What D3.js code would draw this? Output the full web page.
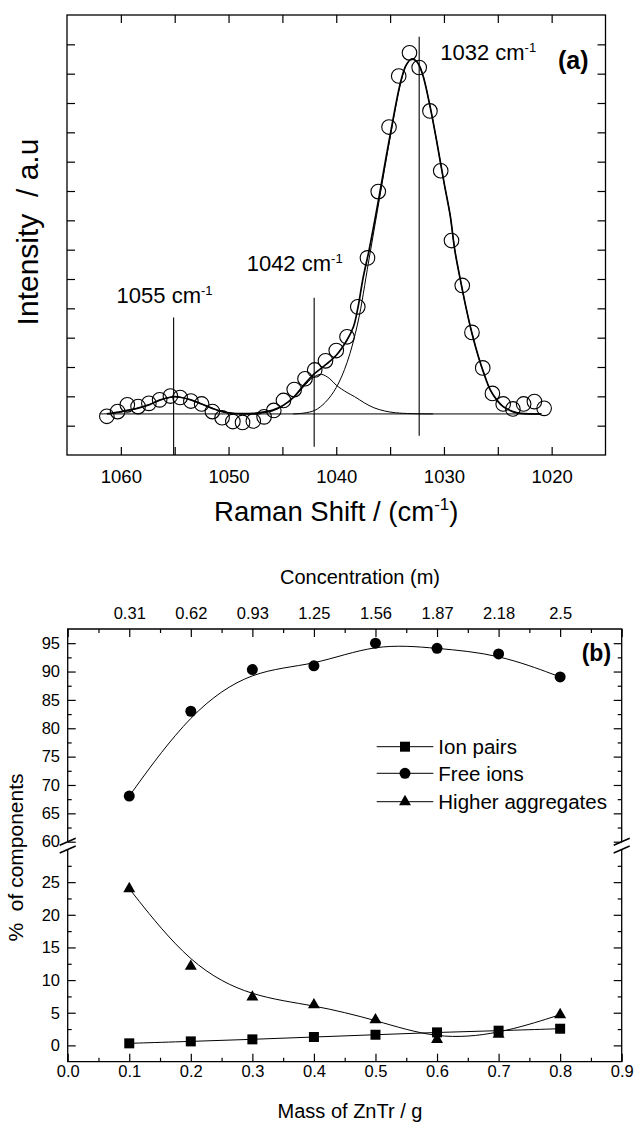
<!DOCTYPE html>
<html>
<head>
<meta charset="utf-8">
<script src="https://cdn.jsdelivr.net/npm/d3@7"></script>
<style>
    body { margin: 0; background: #fff; }
    svg { font-family: "Liberation Sans", Arial, sans-serif; }
    .axis .domain { display: none; }
    .axis line { stroke: #000; stroke-width: 1.2; }
    .axis text { fill: #000; }
</style>
</head>
<body>
<svg id="chart" width="638" height="1124"></svg>
<script>

// ---- panel (a): Raman band, measured points ----
var ramanShift = [1061.3, 1060.3, 1059.4, 1058.4, 1057.4, 1056.4, 1055.4, 1054.5, 1053.5, 1052.5,
    1051.5, 1050.6, 1049.6, 1048.7, 1047.7, 1046.7, 1045.8, 1044.9, 1043.9, 1042.9,
    1042.0, 1041.0, 1040.0, 1039.0, 1038.0, 1037.1, 1036.1, 1035.1, 1034.2, 1033.2,
    1032.3, 1031.3, 1030.3, 1029.3, 1028.3, 1027.4, 1026.4, 1025.5, 1024.5, 1023.6,
    1022.6, 1021.6, 1020.7];
var ramanIntensity = [0.032, 0.048, 0.071, 0.065, 0.076, 0.088, 0.101, 0.096, 0.084, 0.074,
    0.048, 0.027, 0.014, 0.011, 0.016, 0.030, 0.052, 0.086, 0.123, 0.160,
    0.190, 0.221, 0.256, 0.303, 0.405, 0.572, 0.798, 1.018, 1.192, 1.271,
    1.221, 1.073, 0.869, 0.631, 0.478, 0.318, 0.197, 0.110, 0.074, 0.057,
    0.074, 0.082, 0.059];

// fitted envelope and the three components
var fitTotal = [[1061.3, 0.040], [1060.2, 0.046], [1059.3, 0.053], [1058.4, 0.060], [1057.4, 0.071],
    [1056.4, 0.087], [1055.4, 0.097], [1055.0, 0.099], [1054.5, 0.097], [1053.5, 0.088],
    [1052.5, 0.074], [1051.5, 0.059], [1050.6, 0.048], [1049.6, 0.042], [1048.6, 0.041],
    [1047.7, 0.042], [1046.8, 0.046], [1045.9, 0.053], [1044.9, 0.070], [1043.9, 0.099],
    [1043.0, 0.139], [1042.0, 0.178], [1041.0, 0.207], [1040.0, 0.240], [1039.0, 0.292],
    [1038.4, 0.337], [1038.0, 0.400], [1037.5, 0.505], [1037.0, 0.590], [1036.5, 0.685],
    [1036.0, 0.785], [1035.0, 0.990], [1034.0, 1.175], [1033.5, 1.230], [1033.0, 1.250],
    [1032.5, 1.240], [1032.0, 1.200], [1031.3, 1.090], [1030.7, 0.975], [1030.0, 0.830],
    [1029.4, 0.712], [1029.0, 0.600], [1028.35, 0.474], [1027.9, 0.394], [1027.4, 0.315],
    [1026.8, 0.235], [1026.3, 0.179], [1025.7, 0.122], [1025.1, 0.088], [1024.5, 0.065],
    [1023.6, 0.048], [1022.9, 0.042], [1022.0, 0.040], [1021.0, 0.040]];
var fit1055 = [[1062.0, 0.040], [1061.0, 0.041], [1060.2, 0.045], [1059.3, 0.052], [1058.4, 0.060],
    [1057.4, 0.071], [1056.4, 0.087], [1055.4, 0.097], [1055.0, 0.099], [1054.5, 0.097],
    [1053.5, 0.088], [1052.5, 0.074], [1051.5, 0.059], [1050.6, 0.048], [1049.6, 0.042],
    [1048.6, 0.040], [1047.0, 0.040]];
var fit1042 = [[1049.0, 0.040], [1048.0, 0.041], [1047.0, 0.043], [1046.0, 0.049], [1045.0, 0.066],
    [1044.0, 0.095], [1043.0, 0.134], [1042.2, 0.163], [1041.4, 0.175], [1040.6, 0.160],
    [1040.0, 0.138], [1039.0, 0.113], [1038.3, 0.099], [1037.4, 0.078], [1036.5, 0.061],
    [1035.5, 0.050], [1034.5, 0.044], [1033.0, 0.041], [1031.0, 0.040]];
var fit1032 = [[1044.0, 0.040], [1043.0, 0.043], [1042.0, 0.052], [1041.0, 0.080], [1040.0, 0.130],
    [1039.0, 0.215], [1038.0, 0.350], [1037.0, 0.558], [1036.0, 0.771], [1035.0, 0.982],
    [1034.0, 1.172], [1033.5, 1.229], [1033.0, 1.250], [1032.5, 1.240], [1032.0, 1.200],
    [1031.3, 1.090], [1030.7, 0.975], [1030.0, 0.830], [1029.4, 0.712], [1029.0, 0.600],
    [1028.35, 0.474], [1027.9, 0.394], [1027.4, 0.315], [1026.8, 0.235], [1026.3, 0.179],
    [1025.7, 0.122], [1025.1, 0.088], [1024.5, 0.065], [1023.6, 0.048], [1022.9, 0.042],
    [1022.0, 0.040], [1021.0, 0.040]];
var baseLine = [[1061.2, 0.040], [1020.9, 0.040]];

var peakShift = [1055.1, 1042.05, 1032.3];
var peakName = ["1055", "1042", "1032"];
var peakLineTop = [0.369, 0.436, 1.326];
var peakLineBottom = [-0.1, -0.072, -0.034];

var shiftTicks = [1060, 1055, 1050, 1045, 1040, 1035, 1030, 1025, 1020];
var intensityTicks = [0, 0.1, 0.2, 0.3, 0.4, 0.5, 0.6, 0.7, 0.8, 0.9, 1.0, 1.1, 1.2, 1.3];

// ---- panel (b): components vs mass ----
var mass = [0.1, 0.2, 0.3, 0.4, 0.5, 0.6, 0.7, 0.8];
var concLabels = ["0.31", "0.62", "0.93", "1.25", "1.56", "1.87", "2.18", "2.5"];
var ionPairs = [0.31, 0.61, 0.92, 1.28, 1.63, 1.99, 2.25, 2.55];
var freeIons = [68.05, 83.0, 90.35, 91.0, 95.0, 94.1, 93.1, 89.05];
var higherAgg = [24.0, 12.1, 7.4, 6.2, 3.9, 0.9, 1.7, 4.7];
var seriesNames = ["Ion pairs", "Free ions", "Higher aggregates"];

var massTicks = [0, 0.1, 0.2, 0.3, 0.4, 0.5, 0.6, 0.7, 0.8, 0.9];
var upperTicks = [60, 65, 70, 75, 80, 85, 90, 95];
var lowerTicks = [0, 5, 10, 15, 20, 25];


var svg = d3.select("#chart");
var FONT = '"Liberation Sans", Arial, sans-serif';

function styleAxis(sel, size) {
    sel.attr("class", "axis")
        .style("font-family", FONT)
        .style("font-size", size + "px");
    return sel;
}

// =============== panel (a) ===============
var ma = {left: 67, right: 605.5, top: 15, bottom: 455};

var xA = d3.scaleLinear().domain([1065, 1015]).range([ma.left, ma.right]);
var yA = d3.scaleLinear().domain([-0.1, 1.4]).range([ma.bottom, ma.top]);

var gA = svg.append("g");

styleAxis(gA.append("g"), 18.5)
    .attr("transform", "translate(0," + ma.bottom + ")")
    .call(d3.axisBottom(xA).tickValues(shiftTicks).tickSize(-8).tickPadding(15)
        .tickFormat(function (d) { return d % 10 === 0 ? d : ""; }));

styleAxis(gA.append("g"), 12)
    .attr("transform", "translate(0," + ma.top + ")")
    .call(d3.axisTop(xA).tickValues(shiftTicks).tickSize(-8).tickFormat(""));

styleAxis(gA.append("g"), 12)
    .attr("transform", "translate(" + ma.left + ",0)")
    .call(d3.axisLeft(yA).tickValues(intensityTicks).tickSize(-8).tickFormat(""));

styleAxis(gA.append("g"), 12)
    .attr("transform", "translate(" + ma.right + ",0)")
    .call(d3.axisRight(yA).tickValues(intensityTicks).tickSize(-8).tickFormat(""));

gA.append("rect")
    .attr("x", ma.left).attr("y", ma.top)
    .attr("width", ma.right - ma.left).attr("height", ma.bottom - ma.top)
    .attr("fill", "none").attr("stroke", "#000").attr("stroke-width", 1.3);

var lineA = d3.line()
    .x(function (d) { return xA(d[0]); })
    .y(function (d) { return yA(d[1]); })
    .curve(d3.curveCatmullRom);

[baseLine, fit1055, fit1042, fit1032].forEach(function (pts) {
    gA.append("path").datum(pts)
        .attr("d", lineA)
        .attr("fill", "none").attr("stroke", "#000").attr("stroke-width", 1);
});

gA.append("path").datum(fitTotal)
    .attr("d", lineA)
    .attr("fill", "none").attr("stroke", "#000").attr("stroke-width", 1.7);

// peak markers
gA.selectAll("line.peak").data(peakShift).enter()
    .append("line").attr("class", "peak")
    .attr("x1", function (d) { return xA(d); })
    .attr("x2", function (d) { return xA(d); })
    .attr("y1", function (d, i) { return yA(peakLineTop[i]); })
    .attr("y2", function (d, i) { return yA(peakLineBottom[i]); })
    .attr("stroke", "#000").attr("stroke-width", 1.1);

var labelDx = [-57, -67.5, 21];
var labelY = [302.7, 270.7, 59.5];
peakShift.forEach(function (p, i) {
    var t = gA.append("text")
        .attr("x", xA(p) + labelDx[i]).attr("y", labelY[i])
        .style("font-size", "22px").attr("fill", "#000");
    t.append("tspan").text(peakName[i] + " cm");
    t.append("tspan").attr("dy", -8).style("font-size", "13px").text("-1");
});

// measured points
gA.selectAll("circle.obs")
    .data(d3.zip(ramanShift, ramanIntensity))
    .enter().append("circle").attr("class", "obs")
    .attr("cx", function (d) { return xA(d[0]); })
    .attr("cy", function (d) { return yA(d[1]); })
    .attr("r", 7.3)
    .attr("fill", "none").attr("stroke", "#000").attr("stroke-width", 1.1);

gA.append("text").text("(a)")
    .attr("x", 558).attr("y", 69)
    .style("font-size", "25px").style("font-weight", "bold");

gA.append("text").text("Intensity  / a.u")
    .attr("transform", "translate(37.5,232) rotate(-90)")
    .attr("text-anchor", "middle")
    .style("white-space", "pre")
    .style("font-size", "30px");

var xTitle = gA.append("text")
    .attr("x", (ma.left + ma.right) / 2).attr("y", 521)
    .attr("text-anchor", "middle")
    .style("font-size", "27.5px");
xTitle.append("tspan").text("Raman Shift / (cm");
xTitle.append("tspan").attr("dy", -11).style("font-size", "17px").text("-1");
xTitle.append("tspan").attr("dy", 11).text(")");


// =============== panel (b) ===============
var mb = {left: 67.7, right: 621.7, top: 629, bottom: 1061.7};

var xB = d3.scaleLinear().domain([0, 0.9]).range([mb.left, mb.right]);
var yUp = d3.scaleLinear().domain([60, 97.5]).range([841.7, mb.top]);
var yLo = d3.scaleLinear().domain([-2.5, 30]).range([mb.bottom, 849.5]);

var gB = svg.append("g");

var massMinor = massTicks.slice(0, -1).map(function (d) { return d + 0.05; });

styleAxis(gB.append("g"), 16.5)
    .attr("transform", "translate(0," + mb.bottom + ")")
    .call(d3.axisBottom(xB).tickValues(massTicks).tickSize(-8).tickPadding(4)
        .tickFormat(d3.format(".1f")));
styleAxis(gB.append("g"), 12)
    .attr("transform", "translate(0," + mb.bottom + ")")
    .call(d3.axisBottom(xB).tickValues(massMinor).tickSize(-4).tickFormat(""));

styleAxis(gB.append("g"), 16.5)
    .attr("transform", "translate(0," + mb.top + ")")
    .call(d3.axisTop(xB).tickValues(massTicks).tickSize(-8).tickPadding(10.5)
        .tickFormat(function (d) {
            var i = mass.findIndex(function (m) { return Math.abs(m - d) < 1e-6; });
            return i < 0 ? "" : concLabels[i];
        }));
styleAxis(gB.append("g"), 12)
    .attr("transform", "translate(0," + mb.top + ")")
    .call(d3.axisTop(xB).tickValues(massMinor).tickSize(-4).tickFormat(""));

// left / right y axes, two segments each
[[yUp, upperTicks], [yLo, lowerTicks]].forEach(function (seg) {
    var sc = seg[0], ticks = seg[1];
    var minor = ticks.map(function (d) { return d + 2.5; })
        .filter(function (d) { return d < sc.domain()[1] - 0.1; });

    styleAxis(gB.append("g"), 16.5)
        .attr("transform", "translate(" + mb.left + ",0)")
        .call(d3.axisLeft(sc).tickValues(ticks).tickSize(-8).tickPadding(7.7));
    styleAxis(gB.append("g"), 12)
        .attr("transform", "translate(" + mb.left + ",0)")
        .call(d3.axisLeft(sc).tickValues(minor).tickSize(-4).tickFormat(""));
    styleAxis(gB.append("g"), 12)
        .attr("transform", "translate(" + mb.right + ",0)")
        .call(d3.axisRight(sc).tickValues(ticks).tickSize(-8).tickFormat(""));
    styleAxis(gB.append("g"), 12)
        .attr("transform", "translate(" + mb.right + ",0)")
        .call(d3.axisRight(sc).tickValues(minor).tickSize(-4).tickFormat(""));
});

// frame with the broken y axis
var frame = d3.path();
frame.moveTo(mb.left, yUp(60)); frame.lineTo(mb.left, mb.top);
frame.lineTo(mb.right, mb.top); frame.lineTo(mb.right, yUp(60));
frame.moveTo(mb.left, yLo(30)); frame.lineTo(mb.left, mb.bottom);
frame.lineTo(mb.right, mb.bottom); frame.lineTo(mb.right, yLo(30));
gB.append("path").attr("d", frame.toString())
    .attr("fill", "none").attr("stroke", "#000").attr("stroke-width", 1.3);

[mb.left, mb.right].forEach(function (x) {
    [yUp(60), yLo(30)].forEach(function (y) {
        gB.append("line")
            .attr("x1", x - 8).attr("y1", y + 3.5)
            .attr("x2", x + 8).attr("y2", y - 3.5)
            .attr("stroke", "#000").attr("stroke-width", 1.5);
    });
});

// series
var series = [
    {vals: ionPairs, sc: yLo, sym: d3.symbolSquare, size: 100},
    {vals: freeIons, sc: yUp, sym: d3.symbolCircle, size: 95},
    {vals: higherAgg, sc: yLo, sym: d3.symbolTriangle, size: 62}
];

series.forEach(function (s) {
    var line = d3.line()
        .x(function (d, i) { return xB(mass[i]); })
        .y(function (d) { return s.sc(d); })
        .curve(d3.curveBasis);
    gB.append("path").datum(s.vals)
        .attr("d", line)
        .attr("fill", "none").attr("stroke", "#000").attr("stroke-width", 1);
    gB.selectAll(null).data(s.vals).enter()
        .append("path")
        .attr("d", d3.symbol().type(s.sym).size(s.size))
        .attr("transform", function (d, i) {
            return "translate(" + xB(mass[i]) + "," + s.sc(d) + ")";
        })
        .attr("fill", "#000");
});

// legend
var legY = [746.7, 773.3, 801.7];
var leg = gB.append("g");
series.forEach(function (s, i) {
    leg.append("line")
        .attr("x1", 376.7).attr("x2", 433.3)
        .attr("y1", legY[i]).attr("y2", legY[i])
        .attr("stroke", "#000").attr("stroke-width", 1);
    leg.append("path")
        .attr("d", d3.symbol().type(s.sym).size(s.size))
        .attr("transform", "translate(405," + legY[i] + ")")
        .attr("fill", "#000");
    leg.append("text").text(seriesNames[i])
        .attr("x", 438.3).attr("y", legY[i]).attr("dy", "0.36em")
        .style("font-size", "20.5px");
});

gB.append("text").text("(b)")
    .attr("x", 581.7).attr("y", 661)
    .style("font-size", "23px").style("font-weight", "bold");

gB.append("text").text("Concentration (m)")
    .attr("x", 360).attr("y", 584)
    .attr("text-anchor", "middle")
    .style("font-size", "20px");

gB.append("text").text("Mass of ZnTr / g")
    .attr("x", 350).attr("y", 1118)
    .attr("text-anchor", "middle")
    .style("font-size", "20px");

gB.append("text").text("%  of components")
    .attr("transform", "translate(23,857.5) rotate(-90)")
    .attr("text-anchor", "middle")
    .style("white-space", "pre")
    .style("font-size", "21px");

</script>
</body>
</html>
